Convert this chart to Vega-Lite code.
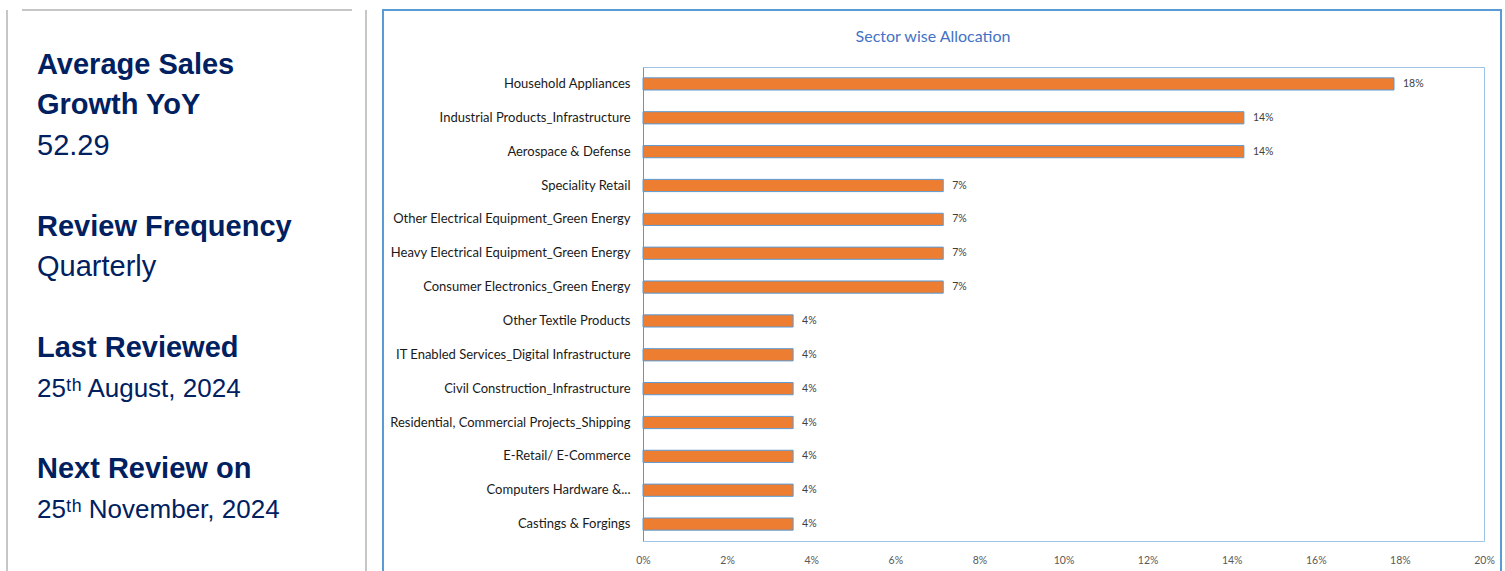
{
  "$schema": "https://vega.github.io/schema/vega-lite/v6.json",
  "padding": {"left": 6, "top": 9, "right": 0, "bottom": 0},
  "background": "#ffffff",
  "spacing": 15,
  "config": {"view": {"stroke": null}, "font": "Lato"},
  "hconcat": [
    {
      "width": 359,
      "height": 561,
      "view": {"stroke": "#c6c6c6", "strokeWidth": 2, "strokeDash": [0, 15, 330, 14, 561, 359, 561]},
      "data": {"values": [
        {"line": 0, "kind": "heading", "text": "Average Sales"},
        {"line": 1, "kind": "heading", "text": "Growth YoY"},
        {"line": 2, "kind": "value", "text": "52.29"},
        {"line": 4, "kind": "heading", "text": "Review Frequency"},
        {"line": 5, "kind": "value", "text": "Quarterly"},
        {"line": 7, "kind": "heading", "text": "Last Reviewed"},
        {"line": 8, "kind": "date", "text": "25ᵗʰ August, 2024"},
        {"line": 10, "kind": "heading", "text": "Next Review on"},
        {"line": 11, "kind": "date", "text": "25ᵗʰ November, 2024"}
      ]},
      "encoding": {
        "x": {"datum": 0, "type": "quantitative", "scale": {"domain": [0, 1], "nice": false, "zero": false}, "axis": null},
        "y": {"field": "line", "type": "quantitative", "scale": {"domain": [-1.58, 12.3], "reverse": true, "nice": false, "zero": false}, "axis": null},
        "text": {"field": "text", "type": "nominal"}
      },
      "layer": [
        {"transform": [{"filter": "datum.kind === 'heading'"}],
         "mark": {"type": "text", "font": "Liberation Sans", "fontWeight": "bold", "fontSize": 29, "color": "#002060", "align": "left", "baseline": "alphabetic", "dx": 30}},
        {"transform": [{"filter": "datum.kind === 'value'"}],
         "mark": {"type": "text", "font": "Liberation Sans", "fontWeight": "normal", "fontSize": 29, "color": "#002060", "align": "left", "baseline": "alphabetic", "dx": 30}},
        {"transform": [{"filter": "datum.kind === 'date'"}],
         "mark": {"type": "text", "font": "Liberation Sans", "fontWeight": "normal", "fontSize": 26, "color": "#002060", "align": "left", "baseline": "alphabetic", "dx": 30}}
      ]
    },
    {
      "width": 1118,
      "height": 561,
      "view": {"stroke": "#5B9BD5", "strokeWidth": 2, "strokeDash": [1679, 1118, 570]},
      "title": {"text": "Sector wise Allocation", "anchor": "middle", "frame": "group", "offset": -48, "baseline": "alphabetic", "dx": -9, "font": "Lato", "fontSize": 16, "fontWeight": "normal", "color": "#4472C4"},
      "data": {"values": [
        {"sector": "Household Appliances", "share": 0.1786},
        {"sector": "Industrial Products_Infrastructure", "share": 0.1429},
        {"sector": "Aerospace & Defense", "share": 0.1429},
        {"sector": "Speciality Retail", "share": 0.0714},
        {"sector": "Other Electrical Equipment_Green Energy", "share": 0.0714},
        {"sector": "Heavy Electrical Equipment_Green Energy", "share": 0.0714},
        {"sector": "Consumer Electronics_Green Energy", "share": 0.0714},
        {"sector": "Other Textile Products", "share": 0.0357},
        {"sector": "IT Enabled Services_Digital Infrastructure", "share": 0.0357},
        {"sector": "Civil Construction_Infrastructure", "share": 0.0357},
        {"sector": "Residential, Commercial Projects_Shipping", "share": 0.0357},
        {"sector": "E-Retail/ E-Commerce", "share": 0.0357},
        {"sector": "Computers Hardware &...", "share": 0.0357},
        {"sector": "Castings & Forgings", "share": 0.0357}
      ]},
      "layer": [
        {
          "mark": {"type": "bar", "fill": "#ED7D31", "stroke": "#5B9BD5", "strokeWidth": 1},
          "encoding": {
            "y": {"field": "sector", "type": "nominal", "sort": null,
                  "scale": {"range": [57, 531], "paddingInner": 0.64, "paddingOuter": 0.32},
                  "axis": {"orient": "left", "offset": -260, "title": null, "ticks": false, "tickSize": 0, "labelPadding": 13, "domainColor": "#8c8c8c", "domainWidth": 1, "labelFont": "Lato", "labelFontSize": 13, "labelColor": "#1a1a1a", "labelLimit": 400}},
            "x": {"field": "share", "type": "quantitative",
                  "scale": {"domain": [0, 0.2], "range": [260, 1101], "nice": false},
                  "axis": {"orient": "bottom", "offset": -30, "values": [0, 0.02, 0.04, 0.06, 0.08, 0.1, 0.12, 0.14, 0.16, 0.18, 0.2], "format": ".0%", "title": null, "ticks": false, "tickSize": 0, "grid": false, "labelPadding": 14, "domainColor": "#9DC3E6", "domainWidth": 1, "labelFont": "Lato", "labelFontSize": 10.5, "labelColor": "#595959", "labelFlush": false}}
          }
        },
        {
          "mark": {"type": "text", "align": "left", "baseline": "middle", "dx": 9, "font": "Lato", "fontSize": 10.5, "color": "#404040"},
          "encoding": {
            "y": {"field": "sector", "type": "nominal", "sort": null,
                  "scale": {"range": [57, 531], "paddingInner": 0.64, "paddingOuter": 0.32},
                  "axis": {"orient": "right", "offset": -17, "title": null, "labels": false, "ticks": false, "domainColor": "#9DC3E6", "domainWidth": 1}},
            "x": {"field": "share", "type": "quantitative",
                  "scale": {"domain": [0, 0.2], "range": [260, 1101], "nice": false},
                  "axis": {"orient": "top", "offset": -57, "title": null, "labels": false, "ticks": false, "grid": false, "domainColor": "#9DC3E6", "domainWidth": 1}},
            "text": {"field": "share", "type": "quantitative", "format": ".0%"}
          }
        }
      ],
      "resolve": {"axis": {"x": "independent", "y": "independent"}}
    }
  ]
}
